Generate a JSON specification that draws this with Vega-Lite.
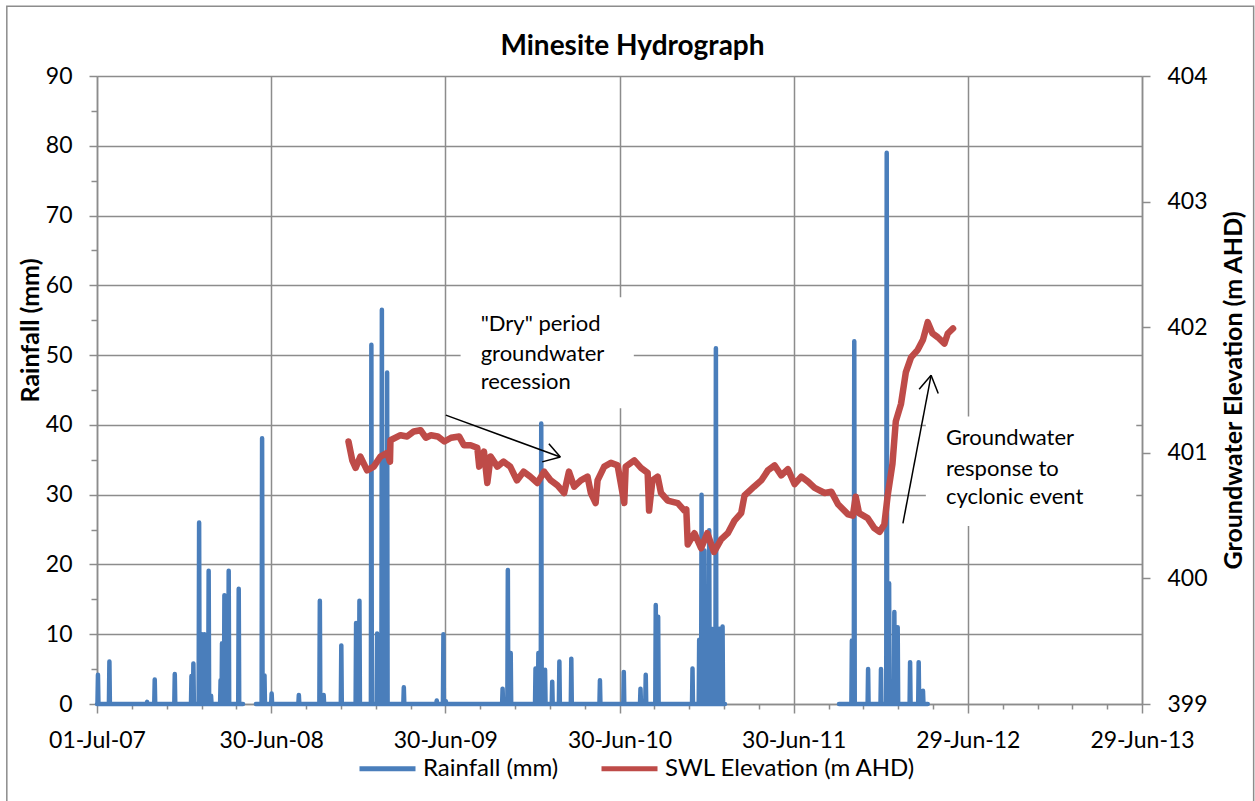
{
  "$schema": "https://vega.github.io/schema/vega-lite/v6.json",
  "width": 1045,
  "height": 628,
  "autosize": {"type": "none"},
  "padding": {"left": 97, "top": 76, "right": 113, "bottom": 97},
  "background": "white",
  "config": {
    "view": {"stroke": null},
    "axis": {
      "labelFont": "Lato", "labelFontSize": 23, "labelColor": "#000000",
      "tickColor": "#8C8C8C", "tickWidth": 1.5,
      "domainColor": "#8C8C8C", "domainWidth": 1.5,
      "gridColor": "#8C8C8C", "gridWidth": 1.5,
      "titleFont": "Lato", "titleColor": "#000000", "titleFontWeight": "bold", "titleFontSize": 25,
      "labelOverlap": false, "labelFlush": false
    }
  },
  "title": {
    "text": "Minesite Hydrograph",
    "font": "Lato", "fontSize": 28, "fontWeight": "bold", "color": "#000000",
    "anchor": "middle", "frame": "group", "offset": -56, "dx": 13
  },
  "datasets": {
    "rain": [
      {"date": "2007-07-01", "rain": 0},
      {"date": "2007-07-02", "rain": 0}, {"date": "2007-07-03", "rain": 4.2}, {"date": "2007-07-04", "rain": 0},
      {"date": "2007-07-26", "rain": 0}, {"date": "2007-07-27", "rain": 6.1}, {"date": "2007-07-28", "rain": 0},
      {"date": "2007-10-13", "rain": 0}, {"date": "2007-10-14", "rain": 0.3}, {"date": "2007-10-15", "rain": 0},
      {"date": "2007-10-29", "rain": 0}, {"date": "2007-10-30", "rain": 3.5}, {"date": "2007-10-31", "rain": 0},
      {"date": "2007-12-10", "rain": 0}, {"date": "2007-12-11", "rain": 4.3}, {"date": "2007-12-12", "rain": 0},
      {"date": "2008-01-14", "rain": 0}, {"date": "2008-01-15", "rain": 4.0}, {"date": "2008-01-16", "rain": 0},
      {"date": "2008-01-18", "rain": 0}, {"date": "2008-01-19", "rain": 5.8}, {"date": "2008-01-20", "rain": 0},
      {"date": "2008-01-30", "rain": 0}, {"date": "2008-01-31", "rain": 26.0}, {"date": "2008-02-01", "rain": 0},
      {"date": "2008-02-05", "rain": 0}, {"date": "2008-02-06", "rain": 10.0}, {"date": "2008-02-07", "rain": 0},
      {"date": "2008-02-10", "rain": 0}, {"date": "2008-02-11", "rain": 10.0}, {"date": "2008-02-12", "rain": 0},
      {"date": "2008-02-19", "rain": 0}, {"date": "2008-02-20", "rain": 19.1}, {"date": "2008-02-21", "rain": 0},
      {"date": "2008-02-24", "rain": 0}, {"date": "2008-02-25", "rain": 1.2}, {"date": "2008-02-26", "rain": 0},
      {"date": "2008-03-15", "rain": 0}, {"date": "2008-03-16", "rain": 3.4}, {"date": "2008-03-17", "rain": 0},
      {"date": "2008-03-18", "rain": 0}, {"date": "2008-03-19", "rain": 8.7}, {"date": "2008-03-20", "rain": 0},
      {"date": "2008-03-23", "rain": 0}, {"date": "2008-03-24", "rain": 15.6}, {"date": "2008-03-25", "rain": 0},
      {"date": "2008-04-01", "rain": 0}, {"date": "2008-04-02", "rain": 19.1}, {"date": "2008-04-03", "rain": 0},
      {"date": "2008-04-22", "rain": 0}, {"date": "2008-04-23", "rain": 16.5}, {"date": "2008-04-24", "rain": 0},
      {"date": "2008-05-02", "rain": 0}, {"date": "2008-05-15", "rain": null}, {"date": "2008-05-29", "rain": 0},
      {"date": "2008-06-10", "rain": 0}, {"date": "2008-06-11", "rain": 38.1}, {"date": "2008-06-12", "rain": 0},
      {"date": "2008-06-15", "rain": 0}, {"date": "2008-06-16", "rain": 4.1}, {"date": "2008-06-17", "rain": 0},
      {"date": "2008-06-30", "rain": 0}, {"date": "2008-07-01", "rain": 1.5}, {"date": "2008-07-02", "rain": 0},
      {"date": "2008-08-26", "rain": 0}, {"date": "2008-08-27", "rain": 1.3}, {"date": "2008-08-28", "rain": 0},
      {"date": "2008-10-09", "rain": 0}, {"date": "2008-10-10", "rain": 14.8}, {"date": "2008-10-11", "rain": 0},
      {"date": "2008-10-17", "rain": 0}, {"date": "2008-10-18", "rain": 1.3}, {"date": "2008-10-19", "rain": 0},
      {"date": "2008-11-23", "rain": 0}, {"date": "2008-11-24", "rain": 8.4}, {"date": "2008-11-25", "rain": 0},
      {"date": "2008-12-24", "rain": 0}, {"date": "2008-12-25", "rain": 11.6}, {"date": "2008-12-26", "rain": 0},
      {"date": "2008-12-31", "rain": 0}, {"date": "2009-01-01", "rain": 14.8}, {"date": "2009-01-02", "rain": 0},
      {"date": "2009-01-25", "rain": 0}, {"date": "2009-01-26", "rain": 51.5}, {"date": "2009-01-27", "rain": 0},
      {"date": "2009-02-06", "rain": 0}, {"date": "2009-02-07", "rain": 10.1}, {"date": "2009-02-08", "rain": 0},
      {"date": "2009-02-16", "rain": 0}, {"date": "2009-02-17", "rain": 56.5}, {"date": "2009-02-18", "rain": 0},
      {"date": "2009-02-20", "rain": 0}, {"date": "2009-02-21", "rain": 35.0}, {"date": "2009-02-22", "rain": 0},
      {"date": "2009-02-27", "rain": 0}, {"date": "2009-02-28", "rain": 47.5}, {"date": "2009-03-01", "rain": 0},
      {"date": "2009-04-03", "rain": 0}, {"date": "2009-04-04", "rain": 2.4}, {"date": "2009-04-05", "rain": 0},
      {"date": "2009-06-11", "rain": 0}, {"date": "2009-06-12", "rain": 0.5}, {"date": "2009-06-13", "rain": 0},
      {"date": "2009-06-25", "rain": 0}, {"date": "2009-06-26", "rain": 10.0}, {"date": "2009-06-27", "rain": 0},
      {"date": "2009-06-30", "rain": 0}, {"date": "2009-07-01", "rain": 0.4}, {"date": "2009-07-02", "rain": 0},
      {"date": "2009-10-27", "rain": 0}, {"date": "2009-10-28", "rain": 2.2}, {"date": "2009-10-29", "rain": 0},
      {"date": "2009-11-07", "rain": 0}, {"date": "2009-11-08", "rain": 19.2}, {"date": "2009-11-09", "rain": 0},
      {"date": "2009-11-13", "rain": 0}, {"date": "2009-11-14", "rain": 7.3}, {"date": "2009-11-15", "rain": 0},
      {"date": "2010-01-04", "rain": 0}, {"date": "2010-01-05", "rain": 5.1}, {"date": "2010-01-06", "rain": 0},
      {"date": "2010-01-10", "rain": 0}, {"date": "2010-01-11", "rain": 7.3}, {"date": "2010-01-12", "rain": 0},
      {"date": "2010-01-16", "rain": 0}, {"date": "2010-01-17", "rain": 40.2}, {"date": "2010-01-18", "rain": 0},
      {"date": "2010-01-24", "rain": 0}, {"date": "2010-01-25", "rain": 4.9}, {"date": "2010-01-26", "rain": 0},
      {"date": "2010-02-08", "rain": 0}, {"date": "2010-02-09", "rain": 3.2}, {"date": "2010-02-10", "rain": 0},
      {"date": "2010-02-23", "rain": 0}, {"date": "2010-02-24", "rain": 6.1}, {"date": "2010-02-25", "rain": 0},
      {"date": "2010-03-20", "rain": 0}, {"date": "2010-03-21", "rain": 6.5}, {"date": "2010-03-22", "rain": 0},
      {"date": "2010-05-19", "rain": 0}, {"date": "2010-05-20", "rain": 3.4}, {"date": "2010-05-21", "rain": 0},
      {"date": "2010-07-08", "rain": 0}, {"date": "2010-07-09", "rain": 4.6}, {"date": "2010-07-10", "rain": 0},
      {"date": "2010-08-12", "rain": 0}, {"date": "2010-08-13", "rain": 2.2}, {"date": "2010-08-14", "rain": 0},
      {"date": "2010-08-23", "rain": 0}, {"date": "2010-08-24", "rain": 4.2}, {"date": "2010-08-25", "rain": 0},
      {"date": "2010-09-13", "rain": 0}, {"date": "2010-09-14", "rain": 14.2}, {"date": "2010-09-15", "rain": 0},
      {"date": "2010-09-18", "rain": 0}, {"date": "2010-09-19", "rain": 12.5}, {"date": "2010-09-20", "rain": 0},
      {"date": "2010-11-29", "rain": 0}, {"date": "2010-11-30", "rain": 5.1}, {"date": "2010-12-01", "rain": 0},
      {"date": "2010-12-13", "rain": 0}, {"date": "2010-12-14", "rain": 9.2}, {"date": "2010-12-15", "rain": 0},
      {"date": "2010-12-18", "rain": 0}, {"date": "2010-12-19", "rain": 30.0}, {"date": "2010-12-20", "rain": 0},
      {"date": "2010-12-24", "rain": 0}, {"date": "2010-12-25", "rain": 22.0}, {"date": "2010-12-26", "rain": 0},
      {"date": "2011-01-03", "rain": 0}, {"date": "2011-01-04", "rain": 24.9}, {"date": "2011-01-05", "rain": 0},
      {"date": "2011-01-08", "rain": 0}, {"date": "2011-01-09", "rain": 10.8}, {"date": "2011-01-10", "rain": 0},
      {"date": "2011-01-17", "rain": 0}, {"date": "2011-01-18", "rain": 51.0}, {"date": "2011-01-19", "rain": 0},
      {"date": "2011-01-24", "rain": 0}, {"date": "2011-01-25", "rain": 10.8}, {"date": "2011-01-26", "rain": 0},
      {"date": "2011-01-31", "rain": 0}, {"date": "2011-02-01", "rain": 11.1}, {"date": "2011-02-02", "rain": 0},
      {"date": "2011-02-06", "rain": 0}, {"date": "2011-06-01", "rain": null}, {"date": "2011-10-03", "rain": 0},
      {"date": "2011-10-29", "rain": 0}, {"date": "2011-10-30", "rain": 9.1}, {"date": "2011-10-31", "rain": 0},
      {"date": "2011-11-03", "rain": 0}, {"date": "2011-11-04", "rain": 52.0}, {"date": "2011-11-05", "rain": 0},
      {"date": "2011-12-02", "rain": 0}, {"date": "2011-12-03", "rain": 5.0}, {"date": "2011-12-04", "rain": 0},
      {"date": "2011-12-29", "rain": 0}, {"date": "2011-12-30", "rain": 5.0}, {"date": "2011-12-31", "rain": 0},
      {"date": "2012-01-10", "rain": 0}, {"date": "2012-01-11", "rain": 79.0}, {"date": "2012-01-12", "rain": 0},
      {"date": "2012-01-15", "rain": 0}, {"date": "2012-01-16", "rain": 17.3}, {"date": "2012-01-17", "rain": 0},
      {"date": "2012-01-26", "rain": 0}, {"date": "2012-01-27", "rain": 13.2}, {"date": "2012-01-28", "rain": 0},
      {"date": "2012-02-02", "rain": 0}, {"date": "2012-02-03", "rain": 11.0}, {"date": "2012-02-04", "rain": 0},
      {"date": "2012-02-28", "rain": 0}, {"date": "2012-02-29", "rain": 6.0}, {"date": "2012-03-01", "rain": 0},
      {"date": "2012-03-17", "rain": 0}, {"date": "2012-03-18", "rain": 6.0}, {"date": "2012-03-19", "rain": 0},
      {"date": "2012-03-26", "rain": 0}, {"date": "2012-03-27", "rain": 1.9}, {"date": "2012-03-28", "rain": 0},
      {"date": "2012-04-06", "rain": 0}
    ],
    "swl": [
      {"date": "2008-12-09", "swl": 401.09}, {"date": "2008-12-17", "swl": 400.94}, {"date": "2008-12-24", "swl": 400.88},
      {"date": "2009-01-03", "swl": 400.97}, {"date": "2009-01-17", "swl": 400.86}, {"date": "2009-01-31", "swl": 400.89},
      {"date": "2009-02-14", "swl": 400.97}, {"date": "2009-02-28", "swl": 401.00}, {"date": "2009-03-06", "swl": 400.93},
      {"date": "2009-03-07", "swl": 401.10}, {"date": "2009-03-28", "swl": 401.14}, {"date": "2009-04-11", "swl": 401.13},
      {"date": "2009-04-25", "swl": 401.17}, {"date": "2009-05-09", "swl": 401.18}, {"date": "2009-05-20", "swl": 401.12},
      {"date": "2009-05-31", "swl": 401.14}, {"date": "2009-06-14", "swl": 401.13}, {"date": "2009-06-28", "swl": 401.09},
      {"date": "2009-07-12", "swl": 401.12}, {"date": "2009-07-29", "swl": 401.13}, {"date": "2009-08-08", "swl": 401.06},
      {"date": "2009-08-22", "swl": 401.06}, {"date": "2009-09-05", "swl": 401.04}, {"date": "2009-09-09", "swl": 400.89},
      {"date": "2009-09-19", "swl": 401.01}, {"date": "2009-09-26", "swl": 400.76}, {"date": "2009-10-03", "swl": 400.97},
      {"date": "2009-10-17", "swl": 400.89}, {"date": "2009-10-30", "swl": 400.93}, {"date": "2009-11-13", "swl": 400.89},
      {"date": "2009-11-27", "swl": 400.78}, {"date": "2009-12-11", "swl": 400.85}, {"date": "2009-12-25", "swl": 400.81},
      {"date": "2010-01-09", "swl": 400.76}, {"date": "2010-01-23", "swl": 400.85}, {"date": "2010-02-06", "swl": 400.78},
      {"date": "2010-02-20", "swl": 400.74}, {"date": "2010-03-06", "swl": 400.68}, {"date": "2010-03-16", "swl": 400.85},
      {"date": "2010-03-27", "swl": 400.73}, {"date": "2010-04-10", "swl": 400.78}, {"date": "2010-04-24", "swl": 400.81},
      {"date": "2010-05-01", "swl": 400.68}, {"date": "2010-05-11", "swl": 400.60}, {"date": "2010-05-15", "swl": 400.78},
      {"date": "2010-05-29", "swl": 400.89}, {"date": "2010-06-12", "swl": 400.92}, {"date": "2010-06-26", "swl": 400.90},
      {"date": "2010-07-10", "swl": 400.60}, {"date": "2010-07-13", "swl": 400.89}, {"date": "2010-07-31", "swl": 400.94},
      {"date": "2010-08-14", "swl": 400.88}, {"date": "2010-08-28", "swl": 400.84}, {"date": "2010-08-31", "swl": 400.54},
      {"date": "2010-09-07", "swl": 400.78}, {"date": "2010-09-18", "swl": 400.81}, {"date": "2010-09-25", "swl": 400.68},
      {"date": "2010-10-09", "swl": 400.62}, {"date": "2010-10-30", "swl": 400.60}, {"date": "2010-11-13", "swl": 400.54},
      {"date": "2010-11-17", "swl": 400.55}, {"date": "2010-11-20", "swl": 400.27}, {"date": "2010-12-04", "swl": 400.36},
      {"date": "2010-12-18", "swl": 400.24}, {"date": "2010-12-31", "swl": 400.36}, {"date": "2011-01-14", "swl": 400.21},
      {"date": "2011-01-29", "swl": 400.31}, {"date": "2011-02-12", "swl": 400.36}, {"date": "2011-02-26", "swl": 400.46},
      {"date": "2011-03-12", "swl": 400.52}, {"date": "2011-03-19", "swl": 400.66}, {"date": "2011-04-08", "swl": 400.73},
      {"date": "2011-04-23", "swl": 400.78}, {"date": "2011-05-07", "swl": 400.86}, {"date": "2011-05-21", "swl": 400.90},
      {"date": "2011-06-04", "swl": 400.82}, {"date": "2011-06-18", "swl": 400.87}, {"date": "2011-07-02", "swl": 400.75},
      {"date": "2011-07-16", "swl": 400.81}, {"date": "2011-07-30", "swl": 400.77}, {"date": "2011-08-13", "swl": 400.72},
      {"date": "2011-09-03", "swl": 400.68}, {"date": "2011-09-17", "swl": 400.69}, {"date": "2011-10-01", "swl": 400.59},
      {"date": "2011-10-22", "swl": 400.51}, {"date": "2011-11-01", "swl": 400.50}, {"date": "2011-11-07", "swl": 400.65},
      {"date": "2011-11-14", "swl": 400.52}, {"date": "2011-12-02", "swl": 400.48}, {"date": "2011-12-16", "swl": 400.40},
      {"date": "2011-12-27", "swl": 400.37}, {"date": "2012-01-06", "swl": 400.43}, {"date": "2012-01-13", "swl": 400.66},
      {"date": "2012-01-23", "swl": 400.91}, {"date": "2012-01-30", "swl": 401.25}, {"date": "2012-02-10", "swl": 401.39},
      {"date": "2012-02-20", "swl": 401.64}, {"date": "2012-03-02", "swl": 401.76}, {"date": "2012-03-16", "swl": 401.82},
      {"date": "2012-03-27", "swl": 401.90}, {"date": "2012-04-06", "swl": 402.04}, {"date": "2012-04-16", "swl": 401.95},
      {"date": "2012-04-27", "swl": 401.92}, {"date": "2012-05-11", "swl": 401.87}, {"date": "2012-05-18", "swl": 401.95},
      {"date": "2012-05-29", "swl": 401.99}
    ],
    "boxes": [
      {"start": "2009-08-01", "end": "2010-07-30", "top": 58.3, "bottom": 42.4},
      {"start": "2012-04-02", "end": "2013-06-17", "top": 41.2, "bottom": 25.5}
    ],
    "frame": [
      {"start": "2006-12-24", "end": "2014-02-18", "top": 100.0, "bottom": -15.0}
    ],
    "notes": [
      {"date": "2009-09-12", "rain": 54.5, "label": "\"Dry\" period"},
      {"date": "2009-09-12", "rain": 50.2, "label": "groundwater"},
      {"date": "2009-09-12", "rain": 46.2, "label": "recession"},
      {"date": "2012-05-14", "rain": 38.1, "label": "Groundwater"},
      {"date": "2012-05-14", "rain": 33.7, "label": "response to"},
      {"date": "2012-05-14", "rain": 29.6, "label": "cyclonic event"}
    ],
    "arrows": [
      {"d1": "2009-07-01", "r1": 41.4, "d2": "2010-02-26", "r2": 35.4},
      {"d1": "2010-02-02", "r1": 37.3, "d2": "2010-02-26", "r2": 35.4},
      {"d1": "2010-01-19", "r1": 34.7, "d2": "2010-02-26", "r2": 35.4},
      {"d1": "2012-02-14", "r1": 25.9, "d2": "2012-04-13", "r2": 47.1},
      {"d1": "2012-03-19", "r1": 45.1, "d2": "2012-04-13", "r2": 47.1},
      {"d1": "2012-04-28", "r1": 44.5, "d2": "2012-04-13", "r2": 47.1}
    ]
  },
  "layer": [
    {
      "resolve": {"axis": {"x": "independent", "y": "independent"}},
      "layer": [
        {
          "data": {"name": "boxes"},
          "mark": {"type": "rect", "fill": "white", "strokeWidth": 0},
          "encoding": {
            "x": {"field": "start", "type": "temporal", "scale": {"type": "utc"},
              "axis": {
                "orient": "bottom", "title": null, "labels": false, "grid": false, "domain": false, "tickSize": 5,
                "values": [
                  {"year": 2007, "month": 9, "date": 12, "utc": true}, {"year": 2007, "month": 11, "date": 24, "utc": true},
                  {"year": 2008, "month": 2, "date": 5, "utc": true}, {"year": 2008, "month": 4, "date": 18, "utc": true},
                  {"year": 2008, "month": 9, "date": 11, "utc": true}, {"year": 2008, "month": 11, "date": 23, "utc": true},
                  {"year": 2009, "month": 2, "date": 4, "utc": true}, {"year": 2009, "month": 4, "date": 18, "utc": true},
                  {"year": 2009, "month": 9, "date": 11, "utc": true}, {"year": 2009, "month": 11, "date": 23, "utc": true},
                  {"year": 2010, "month": 2, "date": 4, "utc": true}, {"year": 2010, "month": 4, "date": 18, "utc": true},
                  {"year": 2010, "month": 9, "date": 11, "utc": true}, {"year": 2010, "month": 11, "date": 23, "utc": true},
                  {"year": 2011, "month": 2, "date": 4, "utc": true}, {"year": 2011, "month": 4, "date": 18, "utc": true},
                  {"year": 2011, "month": 9, "date": 11, "utc": true}, {"year": 2011, "month": 11, "date": 23, "utc": true},
                  {"year": 2012, "month": 2, "date": 4, "utc": true}, {"year": 2012, "month": 4, "date": 17, "utc": true},
                  {"year": 2012, "month": 9, "date": 10, "utc": true}, {"year": 2012, "month": 11, "date": 22, "utc": true},
                  {"year": 2013, "month": 2, "date": 3, "utc": true}, {"year": 2013, "month": 4, "date": 17, "utc": true}
                ]
              }
            },
            "x2": {"field": "end"},
            "y": {"field": "top", "type": "quantitative",
              "axis": {"orient": "left", "title": null, "labels": false, "grid": false, "domain": false, "tickSize": 6,
                "values": [5, 15, 25, 35, 45, 55, 65, 75, 85]}
            },
            "y2": {"field": "bottom"}
          }
        },
        {
          "data": {"name": "frame"},
          "mark": {"type": "rect", "fill": null, "fillOpacity": 0, "stroke": "#8C8C8C", "strokeWidth": 1.5},
          "encoding": {
            "x": {"field": "start", "type": "temporal", "scale": {"type": "utc"}, "axis": null},
            "x2": {"field": "end"},
            "y": {"field": "top", "type": "quantitative", "axis": null},
            "y2": {"field": "bottom"}
          }
        },
        {
          "data": {"name": "rain"},
          "mark": {"type": "line", "strokeWidth": 4.5, "strokeJoin": "round", "strokeCap": "round", "invalid": "break-paths-show-domains"},
          "encoding": {
            "x": {"field": "date", "type": "temporal",
              "scale": {"type": "utc", "domain": [{"year": 2007, "month": 7, "date": 1, "utc": true}, {"year": 2013, "month": 6, "date": 29, "utc": true}]},
              "axis": {
                "orient": "bottom", "title": null, "format": "%d-%b-%y", "grid": true, "tickSize": 9, "labelPadding": 16,
                "values": [
                  {"year": 2007, "month": 7, "date": 1, "utc": true}, {"year": 2008, "month": 6, "date": 30, "utc": true},
                  {"year": 2009, "month": 6, "date": 30, "utc": true}, {"year": 2010, "month": 6, "date": 30, "utc": true},
                  {"year": 2011, "month": 6, "date": 30, "utc": true}, {"year": 2012, "month": 6, "date": 29, "utc": true},
                  {"year": 2013, "month": 6, "date": 29, "utc": true}
                ]
              }
            },
            "y": {"field": "rain", "type": "quantitative",
              "scale": {"domain": [0, 90], "nice": false},
              "axis": {
                "orient": "left", "title": "Rainfall (mm)", "values": [0, 10, 20, 30, 40, 50, 60, 70, 80, 90],
                "grid": true, "tickSize": 8, "labelPadding": 17,
                "titleAngle": 270, "titleX": -67, "titleY": 254, "titleAlign": "center", "titleBaseline": "middle"
              }
            },
            "color": {"datum": "Rainfall (mm)",
              "scale": {"domain": ["Rainfall (mm)", "SWL Elevation (m AHD)"], "range": ["#4A7EBB", "#BE4B48"]},
              "legend": {
                "orient": "none", "legendX": 260, "legendY": 662, "direction": "horizontal", "title": null,
                "labelFont": "Lato", "labelFontSize": 24, "labelColor": "#000000", "labelLimit": 500,
                "symbolType": "stroke", "symbolSize": 3136, "symbolStrokeWidth": 5,
                "labelOffset": 5, "columnPadding": 32, "padding": 0, "symbolOffset": 0
              }
            }
          }
        },
        {
          "data": {"name": "arrows"},
          "mark": {"type": "rule", "color": "#000000", "strokeWidth": 1.5},
          "encoding": {
            "x": {"field": "d1", "type": "temporal", "scale": {"type": "utc"}, "axis": null},
            "x2": {"field": "d2"},
            "y": {"field": "r1", "type": "quantitative", "axis": null},
            "y2": {"field": "r2"}
          }
        },
        {
          "data": {"name": "notes"},
          "mark": {"type": "text", "font": "Lato", "fontSize": 22, "align": "left", "baseline": "middle", "color": "#000000"},
          "encoding": {
            "x": {"field": "date", "type": "temporal", "scale": {"type": "utc"}, "axis": null},
            "y": {"field": "rain", "type": "quantitative", "axis": null},
            "text": {"field": "label"}
          }
        }
      ]
    },
    {
      "data": {"name": "swl"},
      "mark": {"type": "line", "strokeWidth": 6.5, "strokeJoin": "round", "strokeCap": "round"},
      "encoding": {
        "x": {"field": "date", "type": "temporal", "scale": {"type": "utc"}, "axis": null},
        "y": {"field": "swl", "type": "quantitative",
          "scale": {"domain": [399, 404], "nice": false},
          "axis": {
            "orient": "right", "title": "Groundwater Elevation (m AHD)", "values": [399, 400, 401, 402, 403, 404],
            "grid": false, "tickSize": 8, "labelPadding": 17,
            "titleAngle": 270, "titleX": 91, "titleY": 314, "titleAlign": "center", "titleBaseline": "middle"
          }
        },
        "color": {"datum": "SWL Elevation (m AHD)"}
      }
    }
  ],
  "resolve": {"scale": {"y": "independent"}}
}
